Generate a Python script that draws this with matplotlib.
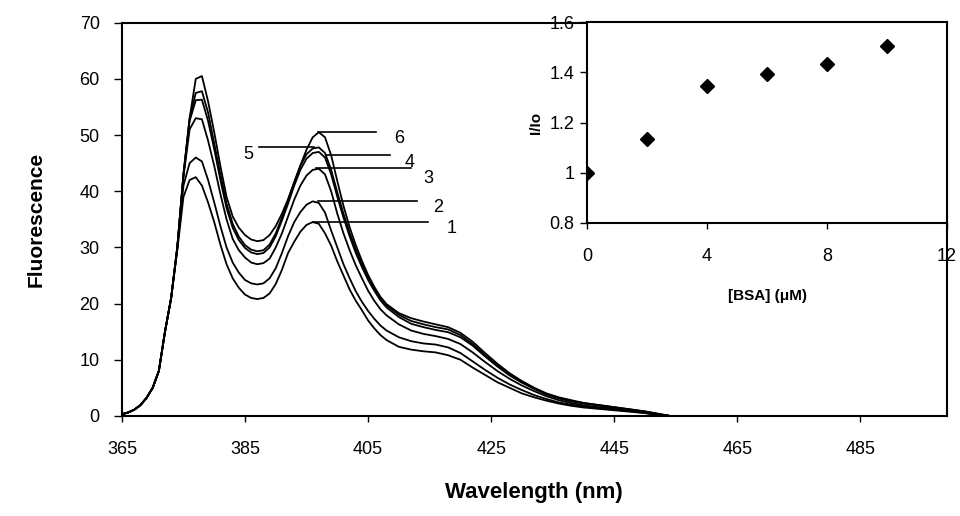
import matplotlib
matplotlib.use('Agg')
import matplotlib.pyplot as plt

plt.rcParams['font.family'] = ['Liberation Sans', 'DejaVu Sans']

# wavelength grid (nm): 1 nm steps up to 408, then 2 nm steps
WAVELENGTH = list(range(365, 409)) + list(range(410, 455, 2))

# rising edge is shared by all six spectra (365-373 nm)
RISE = [0.3, 0.6, 1.1, 1.9, 3.2, 5.0, 8.0, 15.0, 21.0]

SPEC_1 = RISE + [29.5, 39, 42, 42.5, 41, 38, 34.5, 30.5, 27, 24.5, 22.8, 21.6,
                 21.0, 20.8, 21.0, 21.8, 23.5, 26.0, 29.0, 31.0, 32.8, 34.0,
                 34.5, 34.2, 32.5, 30.3, 27.5, 25.0, 22.5, 20.5, 18.8, 17.0,
                 15.6, 14.4, 13.5,
                 12.3, 11.8, 11.5, 11.3, 10.8, 10.0, 8.6, 7.3, 6.0, 5.0, 4.0,
                 3.3, 2.7, 2.2, 1.8, 1.5, 1.3, 1.1, 0.9, 0.7, 0.5, 0.2, 0.0]
SPEC_2 = RISE + [30, 41, 45, 46, 45.3, 42, 38, 33.8, 30, 27.3, 25.5, 24.2,
                 23.6, 23.4, 23.6, 24.5, 26.3, 29.0, 32.0, 34.5, 36.3, 37.6,
                 38.2, 37.9, 36.2, 33.0, 30.0, 27.0, 24.5, 22.2, 20.3, 18.7,
                 17.3, 16.1, 15.2,
                 14.0, 13.3, 12.9, 12.7, 12.2, 11.2, 9.7, 8.2, 6.8, 5.6, 4.6,
                 3.7, 3.0, 2.4, 2.0, 1.7, 1.4, 1.2, 1.0, 0.8, 0.5, 0.2, 0.0]
SPEC_3 = RISE + [30, 42.5, 51, 53, 52.8, 49, 44.5, 39.5, 35, 31.5, 29.5, 28.2,
                 27.3, 27.0, 27.2, 28.0, 30.0, 32.5, 35.5, 38.5, 41.0, 42.8,
                 43.8, 44.0, 43.0, 40.0, 36.0, 32.5, 29.5, 26.8, 24.5, 22.3,
                 20.5, 19.0, 17.9,
                 16.3, 15.2, 14.6, 14.2, 13.7, 12.8, 11.3, 9.6, 8.0, 6.6, 5.4,
                 4.4, 3.5, 2.8, 2.3, 1.9, 1.6, 1.4, 1.1, 0.9, 0.6, 0.3, 0.0]
SPEC_4 = RISE + [30, 43, 52.5, 56.2, 56.3, 52.5, 47.5, 42, 37, 33.5, 31.3, 29.9,
                 29.1, 28.8, 29.0, 30.0, 32.0, 34.8, 37.8, 41.0, 43.8, 45.8,
                 46.8, 47.0, 46.0, 43.0, 39.0, 35.3, 32.0, 29.0, 26.5, 24.2,
                 22.3, 20.6, 19.3,
                 17.6, 16.4, 15.8, 15.3, 14.9, 14.0, 12.5, 10.6, 8.8, 7.2, 5.9,
                 4.8, 3.8, 3.1, 2.6, 2.2, 1.9, 1.6, 1.3, 1.0, 0.7, 0.3, 0.0]
SPEC_5 = RISE + [30, 43, 53, 57.5, 57.8, 54, 48.5, 43, 37.8, 34.2, 31.9, 30.4,
                 29.6, 29.3, 29.5, 30.5, 32.5, 35.3, 38.4, 41.6, 44.5, 46.6,
                 47.6, 47.8, 46.8, 43.8, 39.8, 36.0, 32.6, 29.6, 27.0, 24.7,
                 22.7, 21.0, 19.7,
                 18.0, 16.9, 16.3, 15.8, 15.4, 14.4, 12.8, 10.8, 9.0, 7.4, 6.1,
                 4.9, 3.9, 3.2, 2.7, 2.3, 2.0, 1.7, 1.4, 1.1, 0.8, 0.4, 0.0]
SPEC_6 = RISE + [30, 43, 53, 60, 60.5, 56, 50.5, 44.5, 39, 35.5, 33.5, 32.2,
                 31.4, 31.1, 31.3, 32.2, 33.8, 36.0, 38.6, 41.6, 44.6, 47.4,
                 49.6, 50.5, 49.6, 46.4, 41.8, 37.4, 33.6, 30.4, 27.6, 25.1,
                 23.0, 21.2, 19.9,
                 18.3, 17.4, 16.8, 16.3, 15.8, 14.8, 13.2, 11.2, 9.3, 7.6, 6.2,
                 5.0, 4.0, 3.3, 2.8, 2.3, 2.0, 1.7, 1.4, 1.1, 0.8, 0.4, 0.0]
SPECTRA = [SPEC_1, SPEC_2, SPEC_3, SPEC_4, SPEC_5, SPEC_6]

# inset: relative intensity vs BSA concentration
BSA_UM = [0, 2, 4, 6, 8, 10]
I_IO = [1.0, 1.135, 1.345, 1.395, 1.435, 1.505]

XTICKS = [365, 385, 405, 425, 445, 465, 485]

# label leader lines: (x_start, x_end, y, label, text_x, text_y)
LEADERS = [
    (396.0, 414.8, 34.5, '1', 417.8, 33.4),
    (396.8, 413.0, 38.2, '2', 415.6, 37.1),
    (396.5, 412.0, 44.1, '3', 413.9, 42.3),
    (398.1, 408.6, 46.4, '4', 411.0, 45.2),
    (387.3, 396.2, 47.9, '5', 386.3, 46.5),
    (396.9, 406.3, 50.5, '6', 409.2, 49.3),
]

fig = plt.figure(figsize=(9.6, 5.16), dpi=100)
ax = fig.add_axes([0.127, 0.194, 0.859, 0.762])

for spec in SPECTRA:
    ax.plot(WAVELENGTH, spec, color='black', linewidth=1.3)

for x0, x1, y, lab, tx, ty in LEADERS:
    ax.plot([x0, x1], [y, y], color='black', linewidth=1.2)
    ax.text(tx, ty, lab, fontsize=13, ha='left' if lab != '5' else 'right',
            va='center')

ax.set_xlim(365, 499)
ax.set_ylim(0, 70)
ax.set_xticks(XTICKS)
ax.set_yticks(range(0, 71, 10))
ax.tick_params(axis='y', direction='out', length=6, width=1, pad=10,
               labelsize=13)
ax.tick_params(axis='x', direction='out', length=4, width=1, pad=14,
               labelsize=13)
for sp in ax.spines.values():
    sp.set_linewidth(1.5)
ax.set_xlabel('Wavelength (nm)', fontsize=16, fontweight='bold', labelpad=17)
ax.set_ylabel('Fluorescence', fontsize=15, fontweight='bold', labelpad=24)

# inset
ins = fig.add_axes([0.6115, 0.568, 0.375, 0.389])
ins.plot(BSA_UM, I_IO, linestyle='none', marker='D', markersize=7,
         color='black')
ins.set_xlim(0, 12)
ins.set_ylim(0.8, 1.6)
ins.set_xticks([0, 4, 8, 12])
ins.set_yticks([0.8, 1.0, 1.2, 1.4, 1.6])
ins.set_yticklabels(['0.8', '1', '1.2', '1.4', '1.6'])
ins.tick_params(axis='y', direction='out', length=5, width=1, pad=4,
                labelsize=13)
ins.tick_params(axis='x', direction='out', length=4, width=1, pad=14,
                labelsize=13)
for sp in ins.spines.values():
    sp.set_linewidth(1.5)
ins.set_xlabel('[BSA] (\u03bcM)', fontsize=11, fontweight='bold', labelpad=17)
ins.set_ylabel('I/Io', fontsize=11, fontweight='bold', labelpad=5)

fig.savefig('out.png', dpi=100)
